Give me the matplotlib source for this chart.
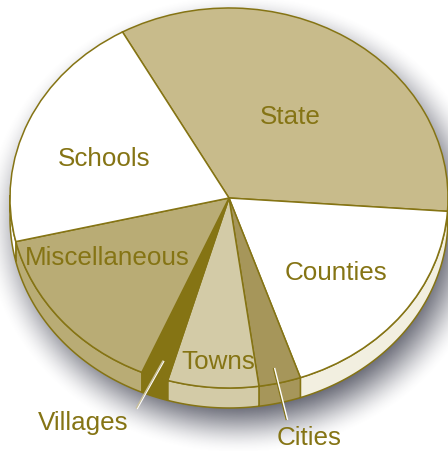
import numpy as np
import matplotlib
matplotlib.use("Agg")
import matplotlib.pyplot as plt
from matplotlib.patches import Polygon

W, H = 448, 451
categories = ["State", "Counties", "Cities", "Towns", "Villages", "Miscellaneous", "Schools"]
shares = [34.2, 18.6, 3.1, 6.7, 2.0, 14.8, 20.6]
top_colors = ["#C8BB8B", "#FFFFFF", "#A6965A", "#D3CBA7", "#857414", "#B9AC75", "#FFFFFF"]
wall_colors = ["#C8BB8B", "#F2EFE0", "#A6965A", "#D3CBA7", "#857414", "#B9AC75", "#FFFFFF"]

INK = "#857414"
START = 119.1
CX, CY, RX, RY = 229, 198, 219, 190
DEPTH = 20 / RY
LW = 1.1
plt.rcParams["font.family"] = ["Liberation Sans", "DejaVu Sans"]


def px(x, y):
    return (x - CX) / RX, (CY - y) / RY


fig = plt.figure(figsize=(W / 100, H / 100), dpi=100, facecolor="white")
ax = fig.add_axes([0, 0, 1, 1])

# soft drop shadow
xx, yy = np.meshgrid(np.arange(W) + 0.5, np.arange(H) + 0.5)
d = (np.hypot((xx - 238) / 219, (yy - 224) / 198) - 1) * 200
soft = np.clip(0.5 - d / 66, 0, 1)
soft = soft * soft * (3 - 2 * soft)
shadow = np.zeros((H, W, 4))
shadow[..., :3] = np.array([0x44, 0x46, 0x55]) / 255
shadow[..., 3] = soft * 0.95
ax.imshow(shadow, extent=(px(0, 0)[0], px(W, 0)[0], px(0, H)[1], px(0, 0)[1]),
          origin="upper", aspect="auto", zorder=0, interpolation="bilinear")

# side walls, following the same cumulative shares as the top
angles = START - 3.6 * np.concatenate([[0], np.cumsum(shares)])
for a0, a1, col in zip(angles[:-1], angles[1:], wall_colors):
    t = np.radians(np.linspace(a0, a1, 200))
    t = t[np.sin(t) <= 0.02]
    if len(t) < 2:
        continue
    upper = np.column_stack([np.cos(t), np.sin(t)])
    lower = upper[::-1] - [0, DEPTH]
    ax.add_patch(Polygon(np.vstack([upper, lower]), closed=True, facecolor=col,
                         edgecolor=INK, linewidth=LW, zorder=1))

# top surface
wedges, _ = ax.pie(shares, colors=top_colors, startangle=START, counterclock=False,
                   radius=1, wedgeprops=dict(edgecolor=INK, linewidth=LW))
for w in wedges:
    w.set_zorder(2)

ax.set_xlim(px(0, 0)[0], px(W, 0)[0])
ax.set_ylim(px(0, H)[1], px(0, 0)[1])
ax.set_aspect("auto")
ax.axis("off")

# leader lines
def leader(p0, p1, col, shift):
    a, b = px(*p0), px(*p1)
    s = shift[0] / RX, -shift[1] / RY
    ax.plot([a[0] + s[0], b[0] + s[0]], [a[1] + s[1], b[1] + s[1]], color=col,
            lw=1.0, solid_capstyle="butt", zorder=3)

leader((164, 361), (137, 409), "#FFFFFF", (0, 0))
leader((164, 361), (137, 409), "#C9C09A", (-0.9, -0.5))
leader((274, 368), (287, 420), INK, (-0.6, 0.1))
leader((274, 368), (287, 420), "#FFFFFF", (0.6, -0.1))

label_pos = {"State": (290, 117), "Counties": (336, 273), "Cities": (309, 438),
             "Towns": (218, 362), "Villages": (83, 423),
             "Miscellaneous": (107.5, 258), "Schools": (104, 159)}
for name in categories:
    x, y = px(*label_pos[name])
    ax.text(x, y, name, color=INK, fontsize=18.7, ha="center", va="center", zorder=4)

fig.savefig("out.png", dpi=100)
